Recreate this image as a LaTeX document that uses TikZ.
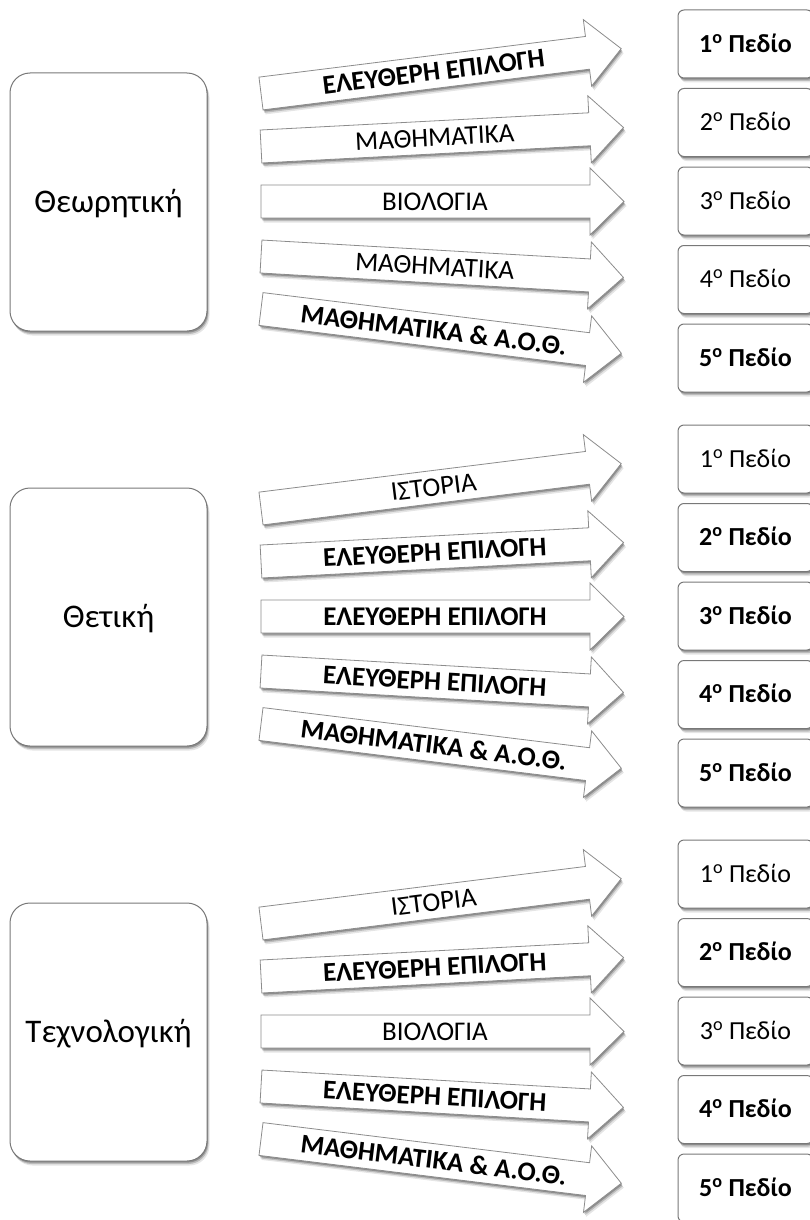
\documentclass[tikz,border=0pt]{standalone}
\usepackage{fontspec}
\setmainfont{Carlito}
\usetikzlibrary{shadows}
\pgfdeclarelayer{fg}
\pgfsetlayers{main,fg}
\definecolor{edgegray}{RGB}{120,120,120}
\definecolor{arrowgray}{RGB}{140,140,140}
\tikzset{
  softshadow/.style={
    drop shadow={shadow xshift=2.5pt, shadow yshift=-4.5pt, opacity=0.10, fill=black},
    drop shadow={shadow xshift=1.5pt, shadow yshift=-3pt, opacity=0.18, fill=black},
    drop shadow={shadow xshift=0.8pt, shadow yshift=-1.6pt, opacity=0.25, fill=black}},
  lbox/.style={draw=edgegray, fill=white, line width=1pt, rounded corners=20pt,
    minimum width=197pt, minimum height=258pt, font=\fontsize{33}{38}\selectfont,
    text height=21pt, text depth=0pt, softshadow},
  rboxst/.style={draw=edgegray, fill=white, line width=1pt, rounded corners=6pt,
    minimum width=135pt, minimum height=68pt, font=\fontsize{26}{30}\selectfont,
    text height=16.5pt, text depth=0pt, softshadow},
  barrowst/.style={draw=arrowgray, fill=white, line width=0.8pt, softshadow},
  atext/.style={font=\fontsize{27}{30}\selectfont, inner sep=0pt, text height=17.4pt, text depth=0pt},
}
\newcommand\leftbox[3]{\node[lbox] (#1) at (108.5,#2) {#3};}
\newcommand\rbox[3]{\node[rboxst] (#1) at (745.5,#2) {#3};}
% name, tail y, angle, text
\newcommand\barrow[4]{%
  \begin{scope}[shift={(261,#2)}, rotate=#3]
    \draw[barrowst] (0,-16.5) -- (329,-16.5) -- (329,-33.5) -- (363,0) -- (329,33.5) -- (329,16.5) -- (0,16.5) -- cycle;
    \begin{pgfonlayer}{fg}
    \node[atext, rotate=#3] (#1) at (174,0) {#4};
    \end{pgfonlayer}
  \end{scope}}
\begin{document}
\begin{tikzpicture}[x=1pt, y=-1pt]
\useasboundingbox (0,0) rectangle (810,1220);
\clip (0,0) rectangle (810,1220);
% ---------- group 1 ----------
\begin{scope}[yshift=0pt]
\leftbox{L1}{202}{Θεωρητική}
\barrow{a11}{93.5}{7.1}{\textbf{ΕΛΕΥΘΕΡΗ ΕΠΙΛΟΓΗ}}
\barrow{a12}{146.5}{3}{ΜΑΘΗΜΑΤΙΚΑ}
\barrow{a13}{201.5}{0}{ΒΙΟΛΟΓΙΑ}
\barrow{a14}{256.5}{-3.3}{ΜΑΘΗΜΑΤΙΚΑ}
\barrow{a15}{309}{-7}{\textbf{ΜΑΘΗΜΑΤΙΚΑ \& Α.Ο.Θ.}}
\rbox{r11}{44}{\textbf{1\textsuperscript{ο} Πεδίο}}
\rbox{r12}{122.5}{2\textsuperscript{ο} Πεδίο}
\rbox{r13}{201}{3\textsuperscript{ο} Πεδίο}
\rbox{r14}{279.5}{4\textsuperscript{ο} Πεδίο}
\rbox{r15}{358}{\textbf{5\textsuperscript{ο} Πεδίο}}
\end{scope}
% ---------- group 2 ----------
\begin{scope}[yshift=-415pt]
\leftbox{L2}{202}{Θετική}
\barrow{a21}{93.5}{7.1}{ΙΣΤΟΡΙΑ}
\barrow{a22}{146.5}{3}{\textbf{ΕΛΕΥΘΕΡΗ ΕΠΙΛΟΓΗ}}
\barrow{a23}{201.5}{0}{\textbf{ΕΛΕΥΘΕΡΗ ΕΠΙΛΟΓΗ}}
\barrow{a24}{256.5}{-3.3}{\textbf{ΕΛΕΥΘΕΡΗ ΕΠΙΛΟΓΗ}}
\barrow{a25}{309}{-7}{\textbf{ΜΑΘΗΜΑΤΙΚΑ \& Α.Ο.Θ.}}
\rbox{r21}{44}{1\textsuperscript{ο} Πεδίο}
\rbox{r22}{122.5}{\textbf{2\textsuperscript{ο} Πεδίο}}
\rbox{r23}{201}{\textbf{3\textsuperscript{ο} Πεδίο}}
\rbox{r24}{279.5}{\textbf{4\textsuperscript{ο} Πεδίο}}
\rbox{r25}{358}{\textbf{5\textsuperscript{ο} Πεδίο}}
\end{scope}
% ---------- group 3 ----------
\begin{scope}[yshift=-830pt]
\leftbox{L3}{202}{Τεχνολογική}
\barrow{a31}{93.5}{7.1}{ΙΣΤΟΡΙΑ}
\barrow{a32}{146.5}{3}{\textbf{ΕΛΕΥΘΕΡΗ ΕΠΙΛΟΓΗ}}
\barrow{a33}{201.5}{0}{ΒΙΟΛΟΓΙΑ}
\barrow{a34}{256.5}{-3.3}{\textbf{ΕΛΕΥΘΕΡΗ ΕΠΙΛΟΓΗ}}
\barrow{a35}{309}{-7}{\textbf{ΜΑΘΗΜΑΤΙΚΑ \& Α.Ο.Θ.}}
\rbox{r31}{44}{1\textsuperscript{ο} Πεδίο}
\rbox{r32}{122.5}{\textbf{2\textsuperscript{ο} Πεδίο}}
\rbox{r33}{201}{3\textsuperscript{ο} Πεδίο}
\rbox{r34}{279.5}{\textbf{4\textsuperscript{ο} Πεδίο}}
\rbox{r35}{358}{\textbf{5\textsuperscript{ο} Πεδίο}}
\end{scope}
\end{tikzpicture}
\end{document}
